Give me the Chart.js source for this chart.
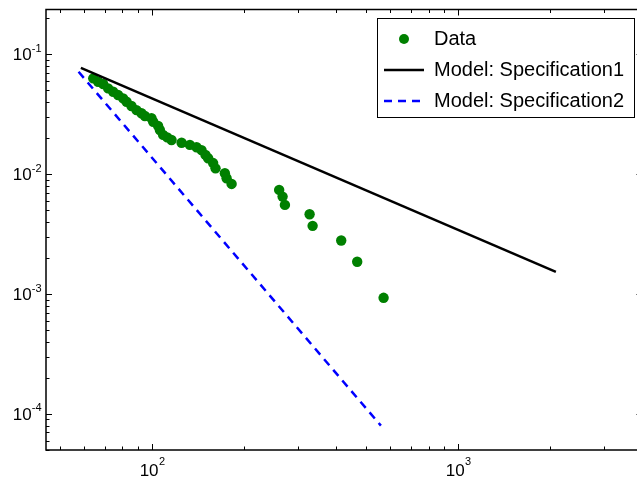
<!DOCTYPE html>
<html>
<head>
<meta charset="utf-8">
<script src="https://cdn.jsdelivr.net/npm/chart.js@4.4.1/dist/chart.umd.min.js"></script>
<style>
  html, body { margin: 0; padding: 0; background: #fff; overflow: hidden; }
  #wrap { width: 660px; height: 477px; }
</style>
</head>
<body>
<div id="wrap"><canvas id="chart" width="660" height="477"></canvas></div>
<script>
const dataX = [64.2, 66.6, 69.2, 71.8, 74.6, 77.4, 80.4, 82.5, 85.6, 88.9, 92.3, 94.7, 99.5, 100.8,
  104.6, 106, 108.6, 112, 115.7, 124.8, 132.8, 139.7, 145, 149.4, 152.4, 158.2, 161.1, 172.8,
  175.1, 181.8, 260, 266.8, 271.5, 326.9, 334.4, 414.7, 467.7, 570.4];
const dataY = [0.0631, 0.0591, 0.0566, 0.0521, 0.0488, 0.0458, 0.0430, 0.0403, 0.0371, 0.0343,
  0.0323, 0.0306, 0.0293, 0.0274, 0.0253, 0.0234, 0.0213, 0.0203, 0.0193, 0.0183, 0.0176, 0.0168,
  0.0159, 0.0145, 0.0136, 0.0124, 0.0112, 0.0102, 0.00926, 0.0083, 0.0074, 0.00651, 0.00555,
  0.00464, 0.00371, 0.0028, 0.00186, 0.000931];

// Model lines: end points (straight lines on log-log axes)
const spec1X = [58.5, 2085];
const spec1Y = [0.0773, 0.001535];
const spec2X = [57.5, 559];
const spec2Y = [0.0716, 0.0000798];

const seriesLabels = ["Data", "Model: Specification1", "Model: Specification2"];
const xTickValues = [100, 1000];
const yTickValues = [0.0001, 0.001, 0.01, 0.1];
const xRange = [45, 4000];
const yRange = [0.00005, 0.237];

const FONT = "'Liberation Sans', Arial, Helvetica, sans-serif";

// decade ticks 1..9 x 10^k between min and max
function logTicks(min, max) {
  const out = [];
  for (let k = Math.floor(Math.log10(min)); k <= Math.ceil(Math.log10(max)); k++) {
    for (let m = 1; m <= 9; m++) {
      const v = m * Math.pow(10, k);
      if (v >= min * 0.9999 && v <= max * 1.0001) out.push({ value: v, major: m === 1 });
    }
  }
  return out;
}

const toPoints = (xs, ys) => xs.map((x, i) => ({ x: x, y: ys[i] }));

// small green dot for the legend entry of the data series
const dot = document.createElement("canvas");
dot.width = 12;
dot.height = 12;
const dctx = dot.getContext("2d");
dctx.fillStyle = "#008000";
dctx.beginPath();
dctx.arc(6, 6, 5, 0, Math.PI * 2);
dctx.fill();

// legend placement + box, MATLAB-like frame with inward ticks, 10^n labels
const frame = {
  id: "frame",
  afterLayout(chart) {
    const a = chart.chartArea;
    const lg = chart.legend;
    const w = lg.width, h = lg.height;
    lg.left = a.right - 269.5;
    lg.top = a.top + 8.5;
    lg.right = lg.left + w;
    lg.bottom = lg.top + h;
  },
  afterDraw(chart) {
    const { ctx, chartArea: a } = chart;
    const xs = chart.scales.x, ys = chart.scales.y;
    ctx.save();
    ctx.strokeStyle = "#000";
    ctx.lineWidth = 1;
    ctx.beginPath();
    xs.ticks.forEach(t => {
      const px = Math.round(xs.getPixelForValue(t.value)) + 0.5;
      const len = t.major ? 6 : 3.5;
      ctx.moveTo(px, a.bottom); ctx.lineTo(px, a.bottom - len);
      ctx.moveTo(px, a.top); ctx.lineTo(px, a.top + len);
    });
    ys.ticks.forEach(t => {
      const py = Math.round(ys.getPixelForValue(t.value)) + 0.5;
      const len = t.major ? 6 : 3.5;
      ctx.moveTo(a.left, py); ctx.lineTo(a.left + len, py);
      ctx.moveTo(a.right, py); ctx.lineTo(a.right - len, py);
    });
    ctx.stroke();
    ctx.lineWidth = 1.5;
    ctx.strokeRect(a.left, a.top, a.right - a.left, a.bottom - a.top);

    // legend box
    ctx.lineWidth = 1;
    const bx = Math.round(a.right - 8.5 - 257) + 0.5;
    const by = Math.round(a.top + 8) + 0.5;
    ctx.strokeRect(bx, by, 257, 99);

    // tick labels as 10 with a raised exponent
    const big = "17px " + FONT, small = "11px " + FONT;
    ctx.fillStyle = "#000";
    ctx.textAlign = "left";
    ctx.textBaseline = "alphabetic";
    const parts = (v) => {
      ctx.font = big;
      const bw = ctx.measureText("10").width;
      const exp = String(Math.round(Math.log10(v)));
      ctx.font = small;
      const ew = ctx.measureText(exp).width;
      return { bw, exp, ew };
    };
    yTickValues.forEach(v => {
      const py = ys.getPixelForValue(v);
      const p = parts(v);
      const right = a.left - 4.5;
      ctx.font = big;
      ctx.fillText("10", right - p.ew - p.bw, py + 6);
      ctx.font = small;
      ctx.fillText(p.exp, right - p.ew, py - 2.5);
    });
    xTickValues.forEach(v => {
      const px = xs.getPixelForValue(v);
      const p = parts(v);
      const x0 = px - (p.bw + p.ew) / 2;
      ctx.font = big;
      ctx.fillText("10", x0, a.bottom + 26);
      ctx.font = small;
      ctx.fillText(p.exp, x0 + p.bw + 0.5, a.bottom + 15);
    });
    ctx.restore();
  }
};

const ctx = document.getElementById("chart").getContext("2d");
new Chart(ctx, {
  type: "scatter",
  data: {
    datasets: [
      {
        label: seriesLabels[0],
        data: toPoints(dataX, dataY),
        backgroundColor: "#008000",
        borderColor: "#008000",
        borderWidth: 0,
        pointRadius: 5.2,
        showLine: false,
        order: 3,
        legendStyle: dot,
      },
      {
        label: seriesLabels[1],
        data: toPoints(spec1X, spec1Y),
        borderColor: "#000000",
        backgroundColor: "#000000",
        borderWidth: 2.5,
        pointRadius: 0,
        showLine: true,
        order: 2,
        legendStyle: "line",
      },
      {
        label: seriesLabels[2],
        data: toPoints(spec2X, spec2Y),
        borderColor: "#0000ff",
        backgroundColor: "#0000ff",
        borderWidth: 2.5,
        borderDash: [8, 6],
        pointRadius: 0,
        showLine: true,
        order: 1,
        legendStyle: "line",
      },
    ],
  },
  options: {
    responsive: false,
    animation: false,
    layout: { padding: { top: 9.5, right: 17.5, left: 0, bottom: 0 } },
    plugins: {
      tooltip: { enabled: false },
      legend: {
        position: "chartArea",
        align: "start",
        labels: {
          usePointStyle: true,
          pointStyleWidth: 40,
          boxHeight: 7,
          padding: 11,
          color: "#000",
          font: { family: FONT, size: 20 },
          generateLabels: (chart) => chart.data.datasets.map((ds, i) => ({
            text: ds.label,
            fillStyle: ds.backgroundColor,
            strokeStyle: ds.borderColor,
            lineWidth: ds.borderWidth,
            lineDash: ds.borderDash || [],
            pointStyle: ds.legendStyle,
            fontColor: "#000",
            hidden: false,
            datasetIndex: i,
          })),
        },
      },
    },
    scales: {
      x: {
        type: "logarithmic",
        min: xRange[0],
        max: xRange[1],
        grid: { display: false },
        border: { display: false },
        afterBuildTicks: (s) => { s.ticks = logTicks(s.min, s.max); },
        afterFit: (s) => { s.height = 27; },
        ticks: { display: false, autoSkip: false },
      },
      y: {
        type: "logarithmic",
        min: yRange[0],
        max: yRange[1],
        grid: { display: false },
        border: { display: false },
        afterBuildTicks: (s) => { s.ticks = logTicks(s.min, s.max); },
        afterFit: (s) => { s.width = 46; },
        ticks: { display: false, autoSkip: false },
      },
    },
  },
  plugins: [frame],
});
</script>
</body>
</html>
